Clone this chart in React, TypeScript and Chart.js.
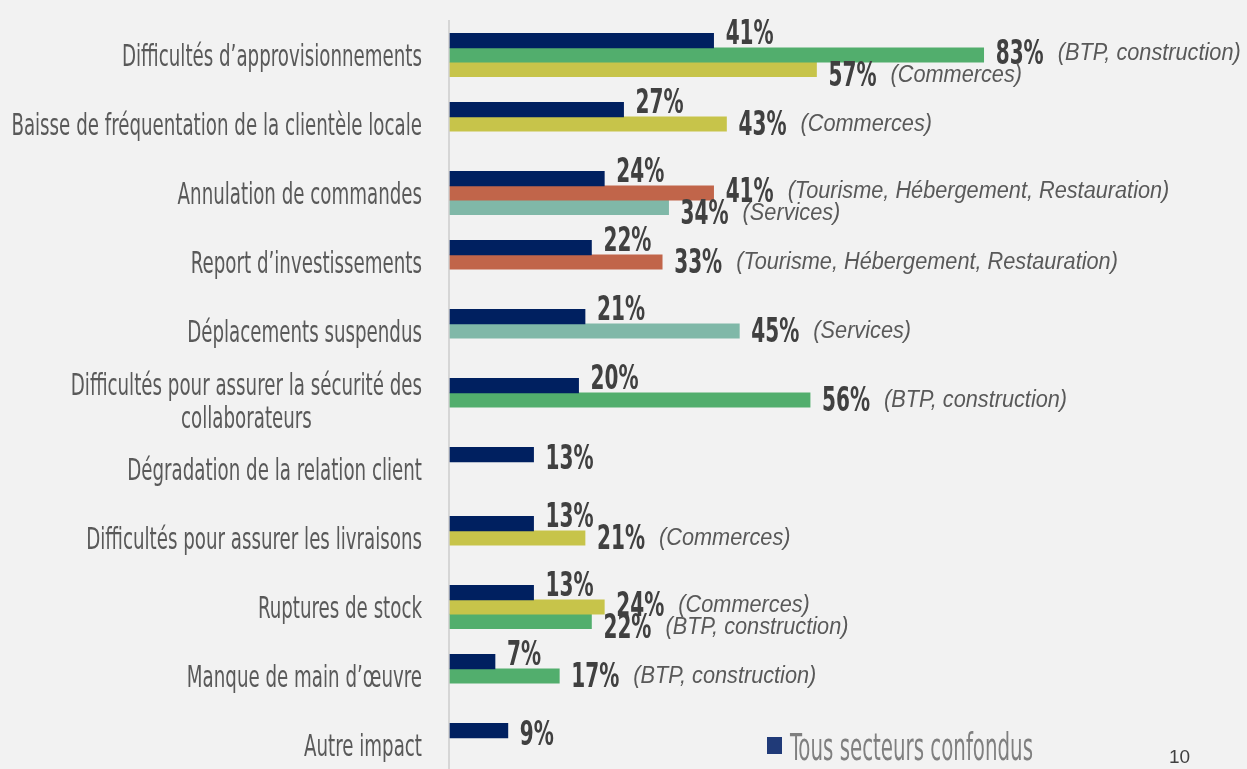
import { useEffect, useRef } from "react";
import { Chart, registerables } from "chart.js";

Chart.register(...registerables);

// ---------- data ----------
const categories: (string | string[])[] = [
  "Difficultés d’approvisionnements",
  "Baisse de fréquentation de la clientèle locale",
  "Annulation de commandes",
  "Report d’investissements",
  "Déplacements suspendus",
  ["Difficultés pour assurer la sécurité des", "collaborateurs"],
  "Dégradation de la relation client",
  "Difficultés pour assurer les livraisons",
  "Ruptures de stock",
  "Manque de main d’œuvre",
  "Autre impact",
];

const allSectors = [41, 27, 24, 22, 21, 20, 13, 13, 13, 7, 9];

const sectorAValues = [83, 43, 41, 33, 45, 56, null, 21, 24, 17, null];
const sectorANames = [
  "BTP, construction",
  "Commerces",
  "Tourisme, Hébergement, Restauration",
  "Tourisme, Hébergement, Restauration",
  "Services",
  "BTP, construction",
  null,
  "Commerces",
  "Commerces",
  "BTP, construction",
  null,
];

const sectorBValues = [57, null, 34, null, null, null, null, null, 22, null, null];
const sectorBNames = [
  "Commerces",
  null,
  "Services",
  null,
  null,
  null,
  null,
  null,
  "BTP, construction",
  null,
  null,
];

const legendLabel = "Tous secteurs confondus";
const pageNumber = "10";

// ---------- styles ----------
const NAVY = "#002060";
const sectorColors: Record<string, string> = {
  "BTP, construction": "#52AE6D",
  Commerces: "#C7C44A",
  "Tourisme, Hébergement, Restauration": "#C1654A",
  Services: "#80B8A8",
};
const BG = "#F2F2F2";
const NARROW = '"Liberation Sans Narrow", "DejaVu Sans Condensed", "Liberation Sans", sans-serif';
const ITALIC = '"Liberation Sans", "DejaVu Sans", sans-serif';

function drawScaled(
  ctx: CanvasRenderingContext2D,
  text: string,
  x: number,
  y: number,
  font: string,
  sx: number,
  align: CanvasTextAlign,
  color: string
) {
  ctx.save();
  ctx.font = font;
  ctx.fillStyle = color;
  ctx.textAlign = align;
  ctx.textBaseline = "alphabetic";
  ctx.translate(x, y);
  ctx.scale(sx, 1);
  ctx.fillText(text, 0, 0);
  ctx.restore();
}

function measure(ctx: CanvasRenderingContext2D, text: string, font: string) {
  ctx.save();
  ctx.font = font;
  const w = ctx.measureText(text).width;
  ctx.restore();
  return w;
}

const decorPlugin = {
  id: "decor",
  beforeDraw(chart: any) {
    const ctx = chart.ctx as CanvasRenderingContext2D;
    ctx.save();
    ctx.fillStyle = BG;
    ctx.fillRect(0, 0, chart.width, chart.height);
    ctx.restore();
  },
  beforeDatasetsDraw(chart: any) {
    const ctx = chart.ctx as CanvasRenderingContext2D;
    const left = chart.chartArea.left;
    ctx.save();
    ctx.strokeStyle = "#D6D6D6";
    ctx.lineWidth = 2;
    ctx.beginPath();
    ctx.moveTo(left - 1, 20);
    ctx.lineTo(left - 1, chart.height);
    ctx.stroke();
    ctx.restore();
  },
  afterDatasetsDraw(chart: any) {
    const ctx = chart.ctx as CanvasRenderingContext2D;
    const yScale = chart.scales.y;
    const left = chart.chartArea.left;

    // category labels
    const catFont = `30px ${NARROW}`;
    const catSx = 300 / measure(ctx, "Difficultés d’approvisionnements", catFont);
    const catCap = 11;
    const labelRight = left - 28;
    categories.forEach((lab, i) => {
      const yc = yScale.getPixelForValue(i);
      if (Array.isArray(lab)) {
        const widths = lab.map((l) => measure(ctx, l, catFont) * catSx);
        const maxW = Math.max(...widths);
        const cx = labelRight - maxW / 2;
        const lh = 33;
        const y0 = yc - ((lab.length - 1) * lh) / 2;
        lab.forEach((l, k) => {
          drawScaled(ctx, l, cx, y0 + k * lh + catCap, catFont, catSx, "center", "#595959");
        });
      } else {
        drawScaled(ctx, lab, labelRight, yc + catCap, catFont, catSx, "right", "#595959");
      }
    });

    // value labels
    const valFont = `bold 33px ${NARROW}`;
    const valSx = 48 / measure(ctx, "57%", valFont);
    const secFont = `italic 23px ${ITALIC}`;
    const secSx = 183 / measure(ctx, "(BTP, construction)", secFont);

    const series = [
      { values: allSectors, names: null as (string | null)[] | null },
      { values: sectorAValues, names: sectorANames },
      { values: sectorBValues, names: sectorBNames },
    ];
    series.forEach((s, di) => {
      const meta = chart.getDatasetMeta(di);
      s.values.forEach((v, i) => {
        if (v === null || v === undefined) return;
        const bar = meta.data[i];
        const hasA = sectorAValues[i] !== null;
        const hasB = sectorBValues[i] !== null;
        let off = 0;
        if (di === 0) off = hasA ? -9 : 2;
        else if (di === 1) off = hasB ? -3 : -1;
        else off = 5;
        const yc = bar.y + off;
        const x = bar.x + 12;
        const text = `${v}%`;
        drawScaled(ctx, text, x, yc + 12, valFont, valSx, "left", "#404040");
        const name = s.names ? s.names[i] : null;
        if (name) {
          const w = measure(ctx, text, valFont) * valSx;
          drawScaled(ctx, `(${name})`, x + w + 14, yc + 8, secFont, secSx, "left", "#595959");
        }
      });
    });

    // legend
    ctx.save();
    ctx.fillStyle = "#203A78";
    ctx.fillRect(767, 737, 15, 17);
    ctx.restore();
    const legFont = `37px ${NARROW}`;
    const legSx = 243 / measure(ctx, legendLabel, legFont);
    drawScaled(ctx, legendLabel, 790, 760, legFont, legSx, "left", "#7F7F7F");

    // page number
    drawScaled(ctx, pageNumber, 1169, 763, `19px ${ITALIC}`, 1, "left", "#404040");
  },
};

export default function App() {
  const canvasRef = useRef<HTMLCanvasElement | null>(null);

  useEffect(() => {
    document.body.style.margin = "0";
    document.body.style.background = BG;
    const canvas = canvasRef.current;
    if (!canvas) return;
    const colorsA = sectorANames.map((n) => (n ? sectorColors[n] : "transparent"));
    const colorsB = sectorBNames.map((n) => (n ? sectorColors[n] : "transparent"));
    const chart = new Chart(canvas, {
      type: "bar",
      data: {
        labels: categories,
        datasets: [
          { label: legendLabel, data: allSectors, backgroundColor: NAVY, barThickness: 14.4, clip: false } as any,
          { label: "Secteur A", data: sectorAValues, backgroundColor: colorsA, barThickness: 14.4, clip: false } as any,
          { label: "Secteur B", data: sectorBValues, backgroundColor: colorsB, barThickness: 14.4, clip: false } as any,
        ],
      },
      options: {
        indexAxis: "y",
        responsive: false,
        devicePixelRatio: 1,
        animation: false,
        layout: { padding: { left: 450, right: 154, top: 55, bottom: 24 } },
        scales: {
          x: { display: false, min: 0, max: 100 },
          y: { display: false, offset: false, grid: { display: false } },
        },
        plugins: {
          legend: { display: false },
          tooltip: { enabled: false },
        },
      },
      plugins: [decorPlugin],
    });
    return () => chart.destroy();
  }, []);

  return (
    <div style={{ position: "fixed", left: 0, top: 0, width: 1247, height: 769, background: BG }}>
      <canvas ref={canvasRef} width={1247} height={769} style={{ display: "block" }} />
    </div>
  );
}
